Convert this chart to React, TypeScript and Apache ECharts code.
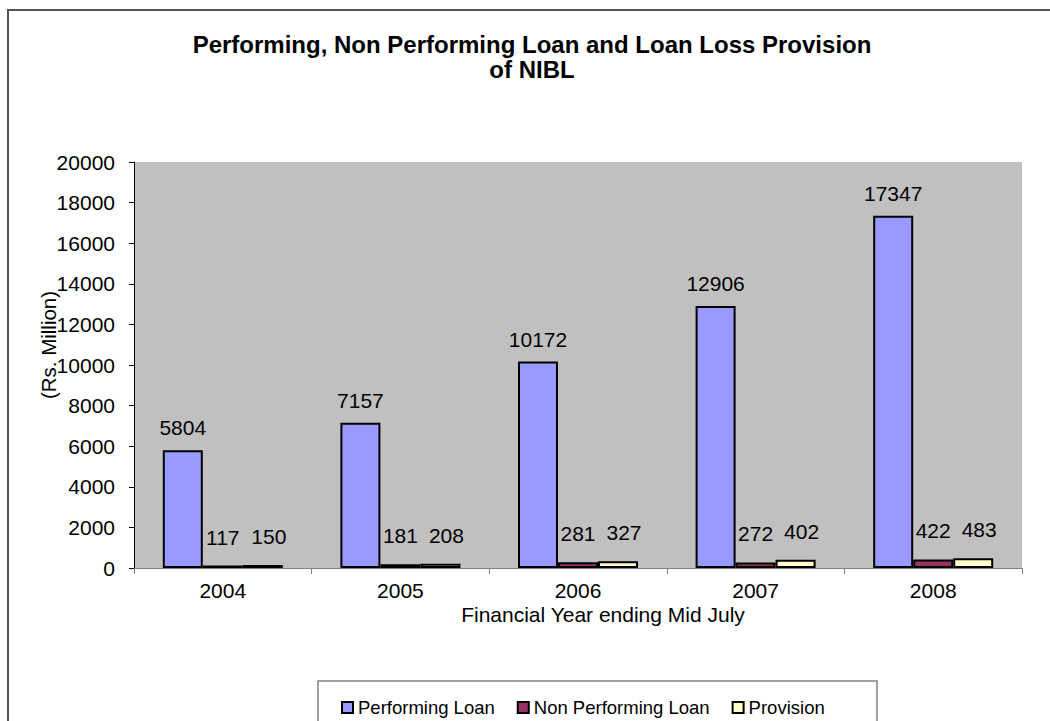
import React, { useEffect, useRef } from "react";
import * as echarts from "echarts";

const years = ["2004", "2005", "2006", "2007", "2008"];
const performingLoan = [5804, 7157, 10172, 12906, 17347];
const nonPerformingLoan = [117, 181, 281, 272, 422];
const provision = [150, 208, 327, 402, 483];
const seriesNames = ["Performing Loan", "Non Performing Loan", "Provision"];

const FONT = "Liberation Sans, Arial, sans-serif";

export default function App() {
  const ref = useRef<HTMLDivElement>(null);
  useEffect(() => {
    document.body.style.margin = "0";
    document.body.style.overflow = "hidden";
    const chart = echarts.init(ref.current!, null, { renderer: "svg" });
    const label = {
      show: true,
      position: "top" as const,
      distance: 12,
      color: "#000",
      fontSize: 21,
      fontFamily: FONT,
    };
    const barStyle = (color: string) => ({
      color,
      borderColor: "#000",
      borderWidth: 2,
    });
    chart.setOption({
      animation: false,
      backgroundColor: "#fff",
      textStyle: { fontFamily: FONT },
      grid: {
        left: 134,
        top: 162,
        width: 888,
        height: 406,
        show: true,
        backgroundColor: "#C0C0C0",
        borderWidth: 0,
      },
      legend: {
        left: 336,
        top: 693,
        itemWidth: 11,
        itemHeight: 11,
        itemGap: 22,
        icon: "rect",
        textStyle: { fontSize: 18.5, color: "#000", fontFamily: FONT },
        data: seriesNames,
      },
      xAxis: {
        type: "category",
        data: years,
        axisLine: { show: true, lineStyle: { color: "#808080", width: 1 } },
        axisTick: { show: true, length: 6, lineStyle: { color: "#808080" } },
        axisLabel: { fontSize: 21, color: "#000", margin: 12, fontFamily: FONT },
      },
      yAxis: {
        type: "value",
        min: 0,
        max: 20000,
        interval: 2000,
        axisLine: { show: true, lineStyle: { color: "#000", width: 1 } },
        axisTick: { show: true, length: 5, lineStyle: { color: "#000" } },
        axisLabel: {
          fontSize: 21,
          color: "#000",
          margin: 19,
          fontFamily: FONT,
          formatter: (v: number) => String(v),
        },
        splitLine: { show: false },
      },
      series: [
        {
          name: seriesNames[0],
          type: "bar",
          data: performingLoan,
          barWidth: 40,
          barGap: "0%",
          itemStyle: barStyle("#9999FF"),
          label,
        },
        {
          name: seriesNames[1],
          type: "bar",
          data: nonPerformingLoan,
          barWidth: 40,
          barGap: "0%",
          itemStyle: barStyle("#993366"),
          label: { ...label, distance: 18 },
        },
        {
          name: seriesNames[2],
          type: "bar",
          data: provision,
          barWidth: 40,
          barGap: "0%",
          itemStyle: barStyle("#FFFFCC"),
          label: { ...label, distance: 18, offset: [6, 0] },
        },
      ],
      graphic: [
        {
          type: "rect",
          z: -10,
          shape: { x: 8, y: 10, width: 1200, height: 900 },
          style: { fill: "none", stroke: "#555", lineWidth: 2 },
          silent: true,
        },
        {
          type: "rect",
          z: -5,
          shape: { x: 318, y: 681, width: 559, height: 80 },
          style: { fill: "#fff", stroke: "#808080", lineWidth: 1.5 },
          silent: true,
        },
        {
          type: "text",
          x: 532,
          y: 44,
          style: {
            text: "Performing, Non Performing Loan and Loan Loss Provision",
            fontSize: 24,
            fontWeight: "bold",
            fontFamily: FONT,
            fill: "#000",
            textAlign: "center",
            textVerticalAlign: "middle",
          },
        },
        {
          type: "text",
          x: 532,
          y: 69,
          style: {
            text: "of NIBL",
            fontSize: 24,
            fontWeight: "bold",
            fontFamily: FONT,
            fill: "#000",
            textAlign: "center",
            textVerticalAlign: "middle",
          },
        },
        {
          type: "text",
          x: 603,
          y: 614,
          style: {
            text: "Financial Year ending Mid July",
            fontSize: 21,
            fontFamily: FONT,
            fill: "#000",
            textAlign: "center",
            textVerticalAlign: "middle",
          },
        },
        {
          type: "text",
          x: 48,
          y: 345,
          rotation: Math.PI / 2,
          style: {
            text: "(Rs. Million)",
            fontSize: 20.5,
            fontFamily: FONT,
            fill: "#000",
            textAlign: "center",
            textVerticalAlign: "middle",
          },
        },
      ],
    });
    return () => chart.dispose();
  }, []);
  return <div ref={ref} style={{ width: 1050, height: 721 }} />;
}
